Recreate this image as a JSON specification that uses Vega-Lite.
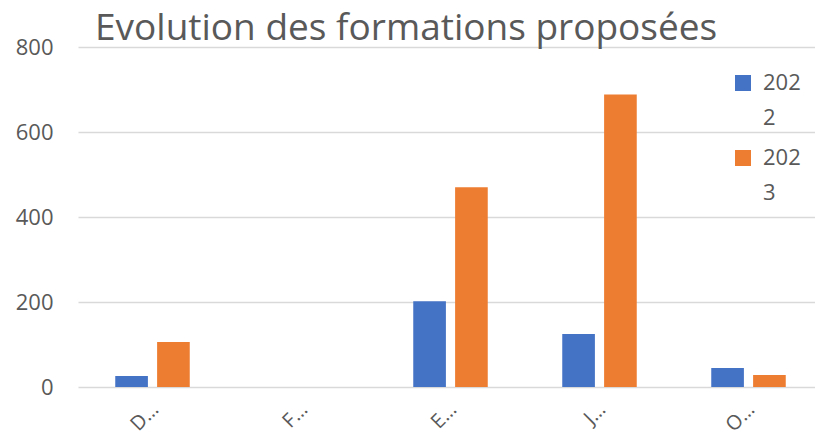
{
  "$schema": "https://vega.github.io/schema/vega-lite/v6.json",
  "width": 737,
  "height": 340,
  "autosize": {"type": "none"},
  "padding": {"left": 78, "top": 47, "right": 0, "bottom": 52},
  "background": "white",
  "title": {
    "text": "Evolution des formations proposées",
    "anchor": "start",
    "frame": "group",
    "dx": 17,
    "dy": 41,
    "offset": 0,
    "baseline": "alphabetic",
    "font": "Open Sans",
    "fontSize": 37,
    "fontWeight": "normal",
    "color": "#595959"
  },
  "data": {
    "values": [
      {"cat": "D…", "year": "2022", "value": 26},
      {"cat": "D…", "year": "2023", "value": 106},
      {"cat": "F…", "year": "2022", "value": 0},
      {"cat": "F…", "year": "2023", "value": 0},
      {"cat": "E…", "year": "2022", "value": 202},
      {"cat": "E…", "year": "2023", "value": 470},
      {"cat": "J…", "year": "2022", "value": 125},
      {"cat": "J…", "year": "2023", "value": 688},
      {"cat": "O…", "year": "2022", "value": 45},
      {"cat": "O…", "year": "2023", "value": 28}
    ]
  },
  "mark": {"type": "bar"},
  "encoding": {
    "x": {
      "field": "cat",
      "type": "nominal",
      "sort": null,
      "scale": {"range": [0, 745], "paddingInner": 0.5, "paddingOuter": 0.25},
      "axis": {
        "title": null,
        "labelAngle": -45,
        "labelFont": "Open Sans",
        "labelFontSize": 20,
        "labelColor": "#595959",
        "ticks": false,
        "domain": false,
        "labelPadding": 12,
        "labelOffset": -4
      }
    },
    "xOffset": {
      "field": "year",
      "type": "nominal",
      "scale": {"paddingInner": 0.22, "paddingOuter": 0}
    },
    "y": {
      "field": "value",
      "type": "quantitative",
      "scale": {"domain": [0, 800]},
      "axis": {
        "title": null,
        "values": [0, 200, 400, 600, 800],
        "labelFont": "Open Sans",
        "labelFontSize": 22,
        "labelColor": "#595959",
        "tickSize": 0,
        "ticks": false,
        "domain": false,
        "labelPadding": 25,
        "gridColor": "#D9D9D9",
        "gridWidth": 1.5
      }
    },
    "color": {
      "field": "year",
      "type": "nominal",
      "scale": {"domain": ["2022", "2023"], "range": ["#4472C4", "#ED7D31"]},
      "legend": {
        "title": null,
        "orient": "none",
        "legendX": 654,
        "legendY": 25,
        "symbolType": "square",
        "symbolSize": 256,
        "symbolStrokeWidth": 0,
        "labelFont": "Open Sans",
        "labelFontSize": 22,
        "labelColor": "#595959",
        "labelOffset": 9,
        "labelExpr": "[substring(datum.label,0,3), substring(datum.label,3)]",
        "rowPadding": 18
      }
    }
  },
  "config": {
    "view": {"stroke": null},
    "style": {"guide-label": {"lineHeight": 35}}
  }
}
